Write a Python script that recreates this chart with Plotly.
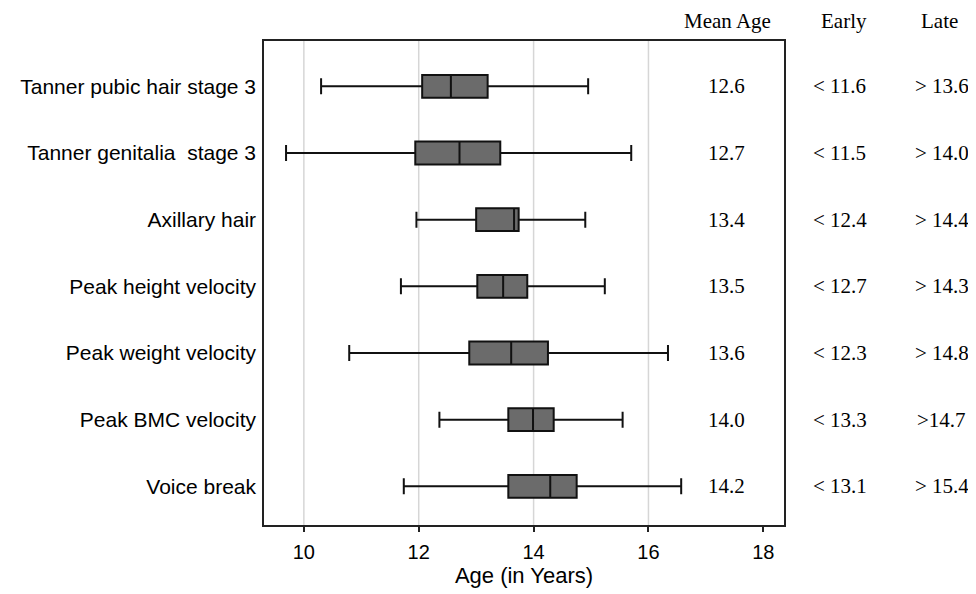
import plotly.graph_objects as go

categories = ["Tanner pubic hair stage 3", "Tanner genitalia  stage 3", "Axillary hair",
              "Peak height velocity", "Peak weight velocity", "Peak BMC velocity", "Voice break"]
lower_whisker = [10.30, 9.69, 11.96, 11.69, 10.79, 12.36, 11.74]
q1_values = [12.06, 11.94, 13.00, 13.02, 12.88, 13.56, 13.56]
median_values = [12.56, 12.71, 13.66, 13.47, 13.61, 13.99, 14.29]
q3_values = [13.20, 13.42, 13.74, 13.89, 14.25, 14.35, 14.75]
upper_whisker = [14.95, 15.70, 14.90, 15.24, 16.34, 15.55, 16.57]

mean_age = ["12.6", "12.7", "13.4", "13.5", "13.6", "14.0", "14.2"]
early = ["< 11.6", "< 11.5", "< 12.4", "< 12.7", "< 12.3", "< 13.3", "< 13.1"]
late = ["> 13.6", "> 14.0", "> 14.4", "> 14.3", "> 14.8", ">14.7", "> 15.4"]
column_headers = ["Mean Age", "Early", "Late"]

x_ticks = [10, 12, 14, 16, 18]
grid_vals = [10, 12, 14, 16]

fig = go.Figure()
fig.add_trace(go.Box(
    y=categories,
    q1=q1_values, median=median_values, q3=q3_values,
    lowerfence=lower_whisker, upperfence=upper_whisker,
    orientation="h",
    fillcolor="#6b6b6b",
    line=dict(color="#111111", width=2),
    whiskerwidth=0.7,
    boxpoints=False,
    hoverinfo="skip",
    showlegend=False,
))

for gv in grid_vals:
    fig.add_vline(x=gv, line=dict(color="#d6d6d6", width=1.5), layer="below")

serif = "Liberation Serif, Times New Roman, serif"
sans = "Liberation Sans, Arial, sans-serif"

col_x = [0.8895, 1.1075, 1.3030]
head_x = [0.8909, 1.115, 1.2985]
for hx, h in zip(head_x, column_headers):
    fig.add_annotation(x=hx, y=1.042, xref="paper", yref="paper", text=h,
                       showarrow=False, xanchor="center", yanchor="middle",
                       font=dict(family=serif, size=21, color="black"))
for col, cx in zip([mean_age, early, late], col_x):
    for cat, val in zip(categories, col):
        fig.add_annotation(x=cx, y=cat, xref="paper", yref="y", text=val,
                           showarrow=False, xanchor="center", yanchor="middle",
                           font=dict(family=serif, size=21, color="black"))

# page body adds an 8px margin, so the figure is 968x586 and offset by 8px
fig.update_layout(
    width=968, height=586,
    margin=dict(l=249, r=192, t=33, b=59),
    paper_bgcolor="white", plot_bgcolor="white",
    boxgap=0.51,
    xaxis=dict(
        range=[9.306, 18.36],
        tickvals=x_ticks,
        ticktext=[str(t) for t in x_ticks],
        showgrid=False, zeroline=False,
        ticks="outside", ticklen=5, tickwidth=1.5, tickcolor="#222222",
        ticklabelstandoff=3,
        showline=True, mirror=True, linecolor="#222222", linewidth=1.5,
        tickfont=dict(family=sans, size=20, color="black"),
        title=dict(text="Age (in Years)", font=dict(family=sans, size=22, color="black"), standoff=4),
    ),
    yaxis=dict(
        type="category",
        categoryorder="array", categoryarray=categories,
        range=[6.58, -0.68],
        showgrid=False, zeroline=False,
        ticks="", ticklabelstandoff=2,
        showline=True, mirror=True, linecolor="#222222", linewidth=1.5,
        tickfont=dict(family=sans, size=21, color="black"),
    ),
)

fig.write_html("out.html")
